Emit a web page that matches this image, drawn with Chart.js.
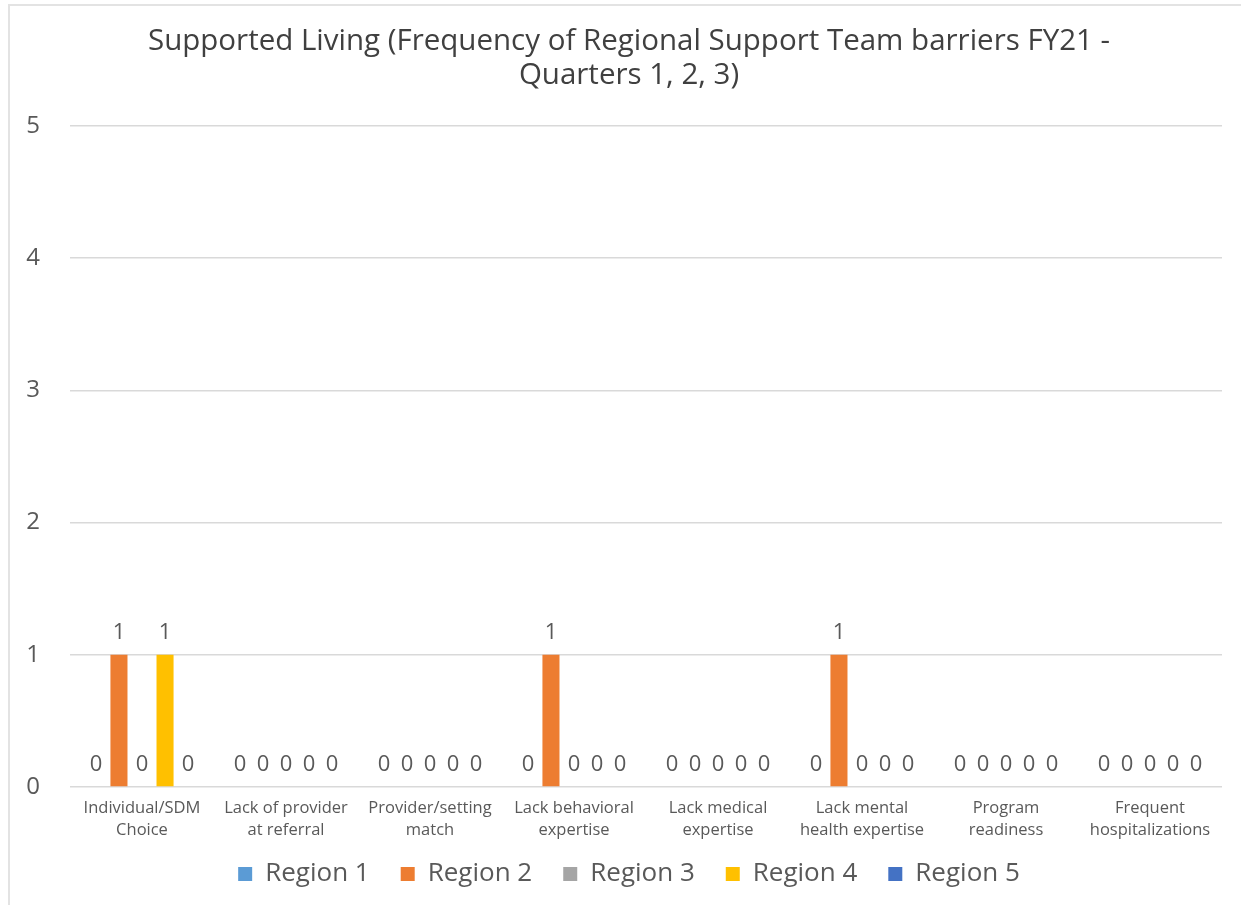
<!DOCTYPE html>
<html>
<head>
<meta charset="utf-8">
<title>Supported Living barriers FY21</title>
<script src="https://cdn.jsdelivr.net/npm/chart.js@4/dist/chart.umd.min.js"></script>
<style>
  html, body { margin: 0; padding: 0; background: #fff; overflow: hidden; }
  #frame {
    position: absolute; left: 8px; top: 4px;
    width: 1260px; height: 920px;
    border: 2px solid #e3e3e3;
  }
  #chart { position: absolute; left: 0; top: 0; }
</style>
</head>
<body>
<div id="frame"></div>
<canvas id="chart" width="1258" height="905"></canvas>
<script>
// ── Données ──
const categories = [
    ["Individual/SDM", "Choice"],
    ["Lack of provider", "at referral"],
    ["Provider/setting", "match"],
    ["Lack behavioral", "expertise"],
    ["Lack medical", "expertise"],
    ["Lack mental", "health expertise"],
    ["Program", "readiness"],
    ["Frequent", "hospitalizations"]
];

const region1 = [0, 0, 0, 0, 0, 0, 0, 0];
const region2 = [1, 0, 0, 1, 0, 1, 0, 0];
const region3 = [0, 0, 0, 0, 0, 0, 0, 0];
const region4 = [1, 0, 0, 0, 0, 0, 0, 0];
const region5 = [0, 0, 0, 0, 0, 0, 0, 0];

const yTicks = [0, 1, 2, 3, 4, 5];

const titleLines = [
    "Supported Living (Frequency of Regional Support Team barriers FY21 -",
    "Quarters 1, 2, 3)"
];

const FONT = "'Open Sans', 'DejaVu Sans', sans-serif";
const GREY = '#595959';

// ── Étiquettes de valeur au-dessus des barres ──
const valueLabels = {
    id: 'valueLabels',
    afterDatasetsDraw(chart) {
        const ctx = chart.ctx;
        ctx.save();
        ctx.font = '22px ' + FONT;
        ctx.fillStyle = GREY;
        ctx.textAlign = 'center';
        ctx.textBaseline = 'bottom';
        chart.data.datasets.forEach((ds, i) => {
            const meta = chart.getDatasetMeta(i);
            meta.data.forEach((bar, j) => {
                ctx.fillText(String(ds.data[j]), bar.x, bar.y - 11);
            });
        });
        ctx.restore();
    }
};

function makeSet(label, data, color) {
    return { label, data, backgroundColor: color, borderWidth: 0 };
}

// espace après chaque entrée de légende (sauf la dernière)
function legendItems(chart) {
    const items = Chart.defaults.plugins.legend.labels.generateLabels(chart);
    return items.map((it, i) => i < items.length - 1 ? { ...it, text: it.text + '\u2002' } : it);
}

new Chart(document.getElementById('chart'), {
    type: 'bar',
    data: {
        labels: categories,
        datasets: [
            makeSet('Region 1', region1, '#5B9BD5'),
            makeSet('Region 2', region2, '#ED7D31'),
            makeSet('Region 3', region3, '#A5A5A5'),
            makeSet('Region 4', region4, '#FFC000'),
            makeSet('Region 5', region5, '#4472C4')
        ]
    },
    options: {
        responsive: false,
        animation: false,
        devicePixelRatio: 1,
        datasets: { bar: { categoryPercentage: 0.8, barPercentage: 0.74 } },
        layout: { padding: { left: 0, right: 0, top: 0, bottom: 8 } },
        plugins: {
            title: {
                display: true,
                text: titleLines,
                color: '#404040',
                font: { family: FONT, size: 29.5, weight: 'normal', lineHeight: 1.153 },
                padding: { top: 25, bottom: 33 }
            },
            legend: {
                position: 'bottom',
                labels: {
                    color: GREY,
                    font: { family: FONT, size: 26 },
                    boxWidth: 14,
                    boxHeight: 14,
                    padding: 18,
                    generateLabels: legendItems
                }
            },
            tooltip: { enabled: false }
        },
        scales: {
            x: {
                grid: { display: false, drawTicks: false },
                border: { display: false },
                ticks: {
                    color: GREY,
                    font: { family: FONT, size: 16.5, lineHeight: 1.33 },
                    maxRotation: 0,
                    autoSkip: false,
                    padding: 10
                },
                afterFit(scale) { scale.height = 56; }
            },
            y: {
                min: 0,
                max: 5,
                afterBuildTicks(scale) { scale.ticks = yTicks.map(v => ({ value: v })); },
                grid: { color: '#d9d9d9', lineWidth: 1.5, drawTicks: false },
                border: { display: false },
                ticks: {
                    color: GREY,
                    font: { family: FONT, size: 24 },
                    padding: 30
                },
                afterFit(scale) { scale.width = 70; }
            },
            // marge droite du graphique : axe vide
            yRight: {
                position: 'right',
                grid: { display: false, drawTicks: false },
                border: { display: false },
                ticks: { display: false },
                afterFit(scale) { scale.width = 36; }
            }
        }
    },
    plugins: [valueLabels]
});
</script>
</body>
</html>
